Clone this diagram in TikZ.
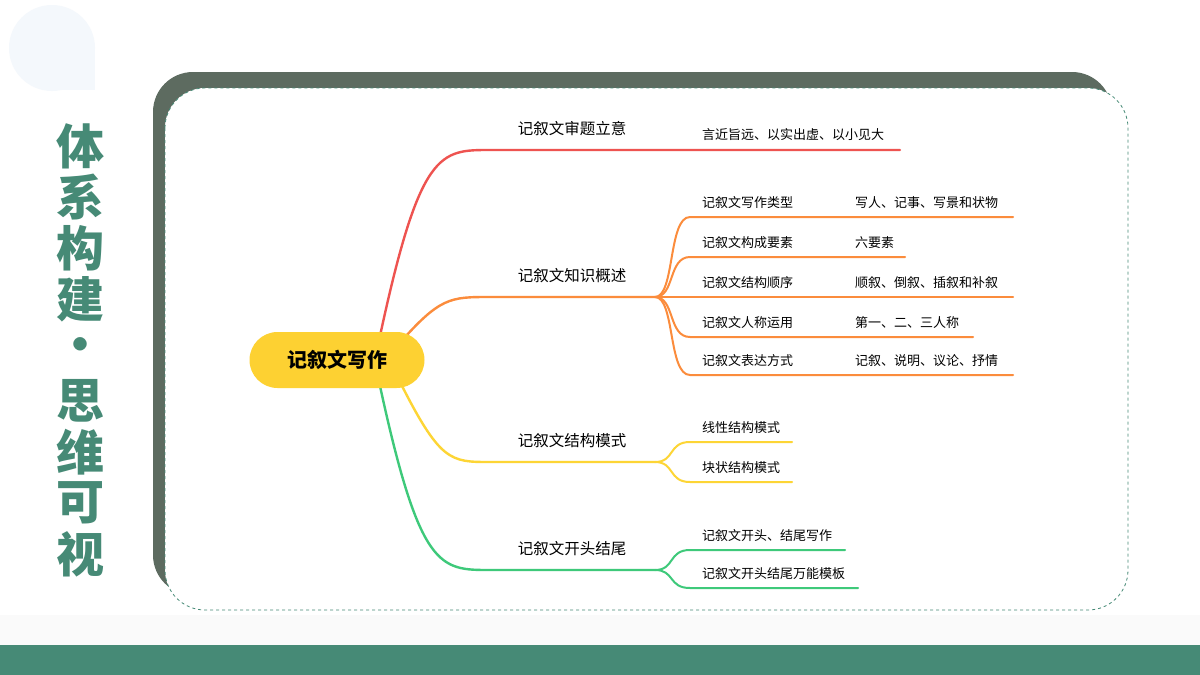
\documentclass[tikz,border=0pt]{standalone}
\usepackage{fontspec}
\setmainfont{Noto Sans CJK SC}
\usetikzlibrary{positioning}
\definecolor{deepgreen}{HTML}{468A76}
\definecolor{framegray}{HTML}{5D6B60}
\definecolor{cred}{HTML}{EE5350}
\definecolor{corange}{HTML}{FB8C3C}
\definecolor{cyellow}{HTML}{FDD535}
\definecolor{cgreen}{HTML}{3EC97A}
\definecolor{dropblue}{HTML}{F4F8FC}
\tikzstyle{root} = [rectangle, rounded corners=28pt, minimum width=175pt, minimum height=56pt, fill=cyellow!95!orange, font=\fontsize{20}{24}\selectfont\bfseries]
\tikzstyle{topic} = [anchor=south, font=\fontsize{15.5}{18}\selectfont, inner sep=0pt]
\tikzstyle{leaf} = [anchor=west, font=\fontsize{13}{15}\selectfont, inner sep=0pt]
\tikzstyle{branch} = [line width=2.4pt, line cap=round]
\tikzstyle{twig} = [line width=2pt, line cap=round]

\begin{document}
\begin{tikzpicture}[x=1pt,y=-1pt]
\useasboundingbox (0,0) rectangle (1200,675);
\fill[white] (0,0) rectangle (1200,675);
\fill[gray!4] (0,615) rectangle (1200,645);
\fill[deepgreen] (0,645) rectangle (1200,675);
% drop in the corner
\fill[dropblue] (52,48) circle[radius=43];
\fill[dropblue] (52,48) rectangle (95,90);

% frame
\fill[framegray] (153,72) [rounded corners=40pt] rectangle (1112,595);
\draw[deepgreen, dashed, line width=0.8pt, fill=white, rounded corners=40pt] (165,88) rectangle (1128,610);

% vertical title
\foreach \ch [count=\i] in {体,系,构,建,·,思,维,可,视}
  \node[text=deepgreen, font=\fontsize{48}{50}\selectfont\bfseries] (title\i) at (80,95+51*\i) {\ch};

% branches
\coordinate (r1) at (380,336);
\coordinate (r2) at (398,345);
\coordinate (r3) at (398,378);
\coordinate (r4) at (380,386);
\coordinate (m1) at (490,150);
\coordinate (m2) at (490,297);
\coordinate (m3) at (490,462);
\coordinate (m4) at (490,570);
\coordinate (h2) at (655,297);
\coordinate (h3) at (655,462);
\coordinate (h4) at (655,570);
\coordinate (e1) at (900,150);

\draw[branch, cred] (r1) .. controls (420,150) and (440,150) .. (m1) -- (e1);
\draw[branch, corange] (r2) .. controls (440,297) and (450,297) .. (m2) -- (h2);
\draw[branch, cyellow] (r3) .. controls (440,462) and (450,462) .. (m3) -- (h3);
\draw[branch, cgreen] (r4) .. controls (420,570) and (440,570) .. (m4) -- (h4);

\node (root) [root] at (337,360) {记叙文写作};

\node (t1) [topic] at (572,136) {记叙文审题立意};
\node (t2) [topic] at (572,283) {记叙文知识概述};
\node (t3) [topic] at (572,448) {记叙文结构模式};
\node (t4) [topic] at (572,556) {记叙文开头结尾};

\node (l1) [leaf] at (702,135) {言近旨远、以实出虚、以小见大};

% knowledge overview
\foreach \y/\ex/\a/\b [count=\i] in {217/1013/记叙文写作类型/写人、记事、写景和状物,
    257/905/记叙文构成要素/六要素,
    297/1013/记叙文结构顺序/顺叙、倒叙、插叙和补叙,
    337/973/记叙文人称运用/第一、二、三人称,
    375/1013/记叙文表达方式/记叙、说明、议论、抒情}{
  \coordinate (k\i) at (690,\y);
  \coordinate (ke\i) at (\ex,\y);
  \draw[twig, corange] (h2) .. controls (675,297) and (668,\y) .. (k\i) -- (ke\i);
  \node (ka\i) [leaf] at (702,\y-14) {\a};
  \node (kb\i) [leaf] at (855,\y-14) {\b};
}

% structure patterns
\foreach \y/\ex/\a [count=\i] in {442/792/线性结构模式, 482/792/块状结构模式}{
  \coordinate (s\i) at (690,\y);
  \coordinate (se\i) at (\ex,\y);
  \draw[twig, cyellow] (h3) .. controls (675,462) and (668,\y) .. (s\i) -- (se\i);
  \node (sa\i) [leaf] at (702,\y-14) {\a};
}

% opening and ending
\foreach \y/\ex/\a [count=\i] in {550/845/记叙文开头、结尾写作, 588/858/记叙文开头结尾万能模板}{
  \coordinate (o\i) at (690,\y);
  \coordinate (oe\i) at (\ex,\y);
  \draw[twig, cgreen] (h4) .. controls (675,570) and (668,\y) .. (o\i) -- (oe\i);
  \node (oa\i) [leaf] at (702,\y-14) {\a};
}
\end{tikzpicture}
\end{document}
